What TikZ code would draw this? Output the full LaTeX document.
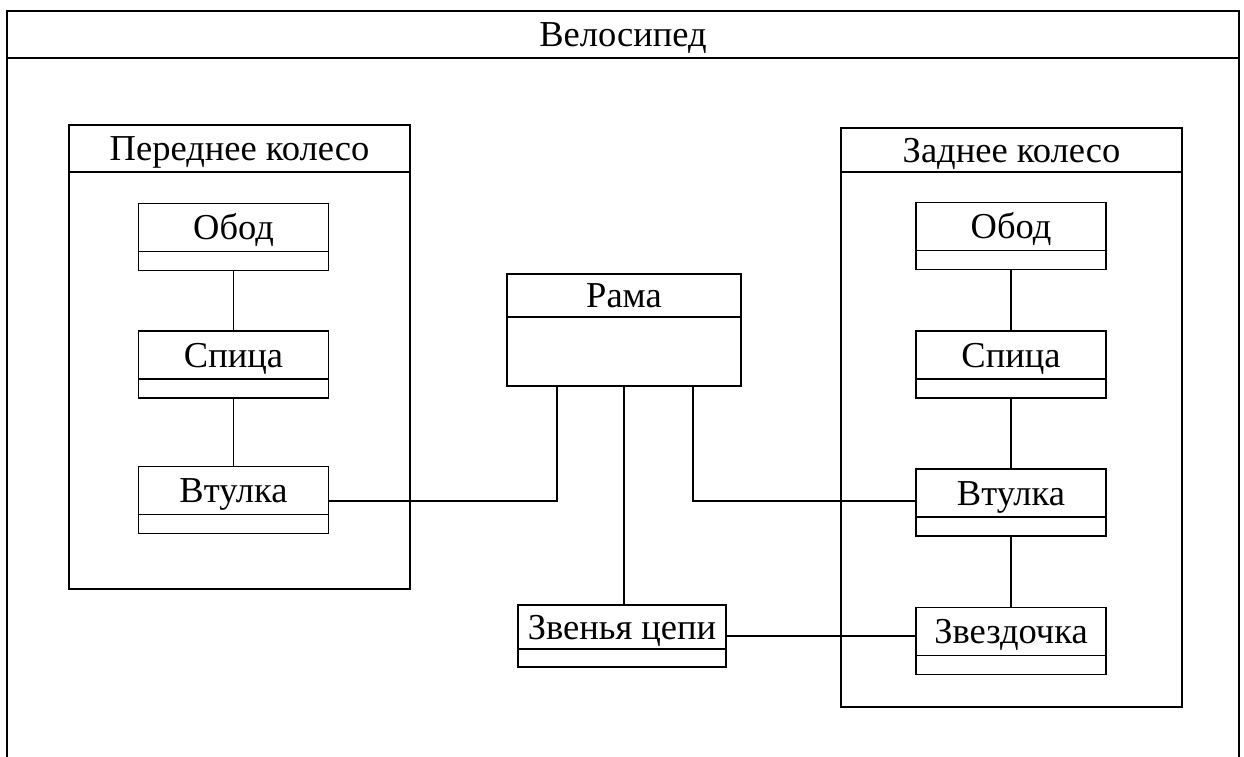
\documentclass[tikz,border=0pt]{standalone}
\usepackage{fontspec}
\setmainfont{Liberation Serif}
\usetikzlibrary{positioning}
\tikzset{
    % class boxes: name part and empty attribute part
    classname/.style={
        rectangle,
        draw=black,
        line width=1.6pt,
        minimum width=190pt,
        minimum height=48pt,
        inner sep=0pt,
        outer sep=0pt,
        text height=24pt,
        text depth=0pt,
        font=\fontsize{36.5}{42}\selectfont
    },
    classbody/.style={
        rectangle,
        draw=black,
        line width=1.6pt,
        minimum width=190pt,
        minimum height=19pt,
        inner sep=0pt,
        outer sep=0pt
    },
    % package frames
    packhead/.style={
        rectangle,
        draw=black,
        line width=1.7pt,
        minimum width=341pt,
        inner sep=0pt,
        outer sep=0pt,
        text height=24pt,
        text depth=0pt,
        font=\fontsize{36.5}{42}\selectfont
    },
    packbody/.style={
        rectangle,
        draw=black,
        line width=1.7pt,
        minimum width=341pt,
        inner sep=0pt,
        outer sep=0pt
    },
    link/.style={
        draw=black,
        line width=1.4pt
    }
}

\begin{document}
\begin{tikzpicture}[x=1pt, y=-1pt]
    \useasboundingbox[fill=white] (0,0) rectangle (1244,756);

    % outer frame
    \node[packhead, minimum width=1232pt, minimum height=47pt] (bike) at (623,34.5) {Велосипед};
    \node[packbody, minimum width=1232pt, minimum height=720pt, below=0pt of bike] (bikeb) {};

    % front wheel
    \node[packhead, minimum height=47pt] (front) at (239.5,148.5) {Переднее колесо};
    \node[packbody, minimum height=417pt, below=0pt of front] (frontb) {};

    \node[classname] (rimF) at (233.5,227.5) {Обод};
    \node[classbody, below=0pt of rimF] (rimFb) {};
    \node[classname] (spokeF) at (233.5,355) {Спица};
    \node[classbody, below=0pt of spokeF] (spokeFb) {};
    \node[classname] (hubF) at (233.5,490.5) {Втулка};
    \node[classbody, below=0pt of hubF] (hubFb) {};

    % rear wheel
    \node[packhead, minimum height=44pt] (rear) at (1011.5,150) {Заднее колесо};
    \node[packbody, minimum height=535pt, below=0pt of rear] (rearb) {};

    \node[classname] (rimR) at (1011,226.5) {Обод};
    \node[classbody, below=0pt of rimR] (rimRb) {};
    \node[classname] (spokeR) at (1011,355) {Спица};
    \node[classbody, below=0pt of spokeR] (spokeRb) {};
    \node[classname] (hubR) at (1011,493) {Втулка};
    \node[classbody, below=0pt of hubR] (hubRb) {};
    \node[classname] (sprocket) at (1011,631.5) {Звездочка};
    \node[classbody, below=0pt of sprocket] (sprocketb) {};

    % frame and chain
    \node[classname, minimum width=234pt, minimum height=43pt] (frame) at (624,295.5) {Рама};
    \node[classbody, minimum width=234pt, minimum height=69pt, below=0pt of frame] (frameb) {};
    \node[classname, minimum width=208pt, minimum height=44pt] (chain) at (622,627) {Звенья цепи};
    \node[classbody, minimum width=208pt, minimum height=18pt, below=0pt of chain] (chainb) {};

    \coordinate (jl) at (557,501);
    \coordinate (jr) at (693,501);
    \coordinate (jc) at (0,636);

    \draw[link] (rimFb.south) -- (spokeF.north);
    \draw[link] (spokeFb.south) -- (hubF.north);
    \draw[link] (rimRb.south) -- (spokeR.north);
    \draw[link] (spokeRb.south) -- (hubR.north);
    \draw[link] (hubRb.south) -- (sprocket.north);

    \draw[link] (hubF.east |- jl) -- (jl) -- (jl |- frameb.south);
    \draw[link] (frameb.south -| jr) -- (jr) -- (hubR.west |- jr);
    \draw[link] (frameb.south) -- (frameb.south |- chain.north);
    \draw[link] (chain.east |- jc) -- (sprocket.west |- jc);
\end{tikzpicture}
\end{document}
